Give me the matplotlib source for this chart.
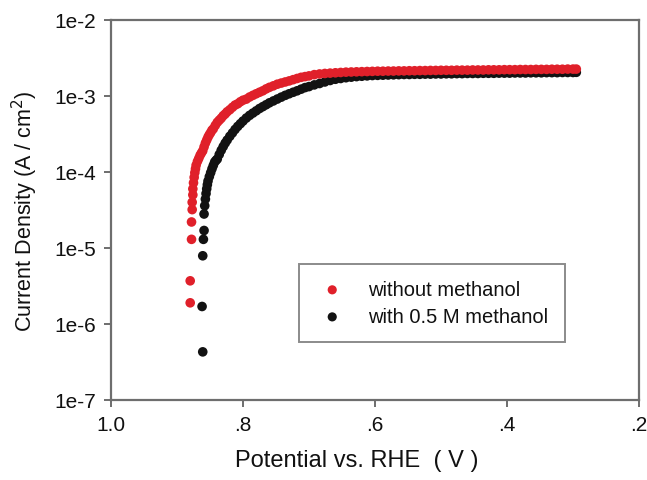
import matplotlib
matplotlib.use("Agg")
import matplotlib.pyplot as plt
from matplotlib.ticker import FixedLocator, NullLocator

plt.rcParams['font.family'] = ['Liberation Sans', 'DejaVu Sans']

# ---- data: without methanol (red) ----
v_red = [0.880, 0.880, 0.878, 0.878, 0.877, 0.877, 0.876, 0.876, 0.875, 0.874,
         0.873, 0.872, 0.871, 0.869, 0.867, 0.865, 0.863, 0.861, 0.859, 0.857,
         0.855, 0.853, 0.851, 0.849, 0.847, 0.845, 0.842, 0.839, 0.836, 0.833,
         0.830, 0.827, 0.824, 0.820, 0.816, 0.812, 0.808, 0.804, 0.800, 0.795,
         0.790, 0.785, 0.780, 0.775, 0.770, 0.765, 0.760, 0.754, 0.748, 0.742,
         0.736, 0.730, 0.724, 0.718, 0.712, 0.706, 0.700, 0.692, 0.684, 0.676,
         0.668, 0.660, 0.652, 0.644, 0.636, 0.628, 0.620, 0.612, 0.604, 0.596,
         0.588, 0.580, 0.572, 0.564, 0.556, 0.548, 0.540, 0.532, 0.524, 0.516,
         0.508, 0.500, 0.492, 0.484, 0.476, 0.468, 0.460, 0.452, 0.444, 0.436,
         0.428, 0.420, 0.412, 0.404, 0.396, 0.388, 0.380, 0.372, 0.364, 0.356,
         0.348, 0.340, 0.332, 0.324, 0.316, 0.308, 0.300, 0.295]
j_red = [1.9e-6, 3.7e-6, 1.3e-5, 2.2e-5, 3.2e-5, 4.0e-5, 5.0e-5, 6.0e-5, 7.2e-5, 8.5e-5,
         9.8e-5, 1.10e-4, 1.23e-4, 1.38e-4, 1.51e-4, 1.66e-4, 1.78e-4, 1.90e-4, 2.14e-4, 2.40e-4,
         2.63e-4, 2.88e-4, 3.10e-4, 3.30e-4, 3.55e-4, 3.70e-4, 4.10e-4, 4.50e-4, 4.80e-4, 5.10e-4,
         5.50e-4, 5.80e-4, 6.20e-4, 6.60e-4, 7.10e-4, 7.60e-4, 7.90e-4, 8.40e-4, 8.80e-4, 9.10e-4,
         9.70e-4, 1.02e-3, 1.07e-3, 1.12e-3, 1.17e-3, 1.24e-3, 1.30e-3, 1.36e-3, 1.43e-3, 1.48e-3,
         1.53e-3, 1.58e-3, 1.64e-3, 1.70e-3, 1.76e-3, 1.80e-3, 1.84e-3, 1.91e-3, 1.95e-3, 1.98e-3,
         2.00e-3, 2.02e-3, 2.04e-3, 2.06e-3, 2.07e-3, 2.08e-3, 2.09e-3, 2.10e-3, 2.11e-3, 2.12e-3,
         2.12e-3, 2.13e-3, 2.13e-3, 2.14e-3, 2.14e-3, 2.15e-3, 2.15e-3, 2.16e-3, 2.16e-3, 2.17e-3,
         2.17e-3, 2.18e-3, 2.18e-3, 2.18e-3, 2.19e-3, 2.19e-3, 2.19e-3, 2.20e-3, 2.20e-3, 2.20e-3,
         2.21e-3, 2.21e-3, 2.21e-3, 2.22e-3, 2.22e-3, 2.22e-3, 2.23e-3, 2.23e-3, 2.23e-3, 2.24e-3,
         2.24e-3, 2.24e-3, 2.25e-3, 2.25e-3, 2.25e-3, 2.26e-3, 2.26e-3, 2.26e-3]

# ---- data: with 0.5 M methanol (black) ----
v_blk = [0.861, 0.862, 0.861, 0.860, 0.859, 0.859, 0.858, 0.857, 0.856, 0.855,
         0.854, 0.853, 0.851, 0.849, 0.847, 0.845, 0.843, 0.841, 0.839, 0.836,
         0.833, 0.830, 0.827, 0.824, 0.820, 0.816, 0.812, 0.808, 0.804, 0.800,
         0.795, 0.790, 0.785, 0.780, 0.775, 0.770, 0.765, 0.760, 0.754, 0.748,
         0.742, 0.736, 0.730, 0.724, 0.718, 0.712, 0.706, 0.700, 0.692, 0.684,
         0.676, 0.668, 0.660, 0.652, 0.644, 0.636, 0.628, 0.620, 0.612, 0.604,
         0.596, 0.588, 0.580, 0.572, 0.564, 0.556, 0.548, 0.540, 0.532, 0.524,
         0.516, 0.508, 0.500, 0.492, 0.484, 0.476, 0.468, 0.460, 0.452, 0.444,
         0.436, 0.428, 0.420, 0.412, 0.404, 0.396, 0.388, 0.380, 0.372, 0.364,
         0.356, 0.348, 0.340, 0.332, 0.324, 0.316, 0.308, 0.300, 0.295]
j_blk = [4.3e-7, 1.7e-6, 7.9e-6, 1.3e-5, 1.7e-5, 2.8e-5, 3.6e-5, 4.4e-5, 5.2e-5, 6.0e-5,
         6.8e-5, 7.6e-5, 8.7e-5, 9.8e-5, 1.10e-4, 1.22e-4, 1.35e-4, 1.42e-4, 1.48e-4, 1.70e-4,
         1.93e-4, 2.16e-4, 2.40e-4, 2.63e-4, 2.95e-4, 3.27e-4, 3.63e-4, 3.98e-4, 4.32e-4, 4.68e-4,
         5.13e-4, 5.56e-4, 5.96e-4, 6.38e-4, 6.84e-4, 7.24e-4, 7.67e-4, 8.13e-4, 8.61e-4, 9.12e-4,
         9.66e-4, 1.02e-3, 1.07e-3, 1.12e-3, 1.17e-3, 1.23e-3, 1.29e-3, 1.33e-3, 1.40e-3, 1.46e-3,
         1.53e-3, 1.60e-3, 1.66e-3, 1.70e-3, 1.74e-3, 1.77e-3, 1.80e-3, 1.82e-3, 1.84e-3, 1.86e-3,
         1.87e-3, 1.88e-3, 1.89e-3, 1.90e-3, 1.91e-3, 1.92e-3, 1.92e-3, 1.93e-3, 1.93e-3, 1.94e-3,
         1.94e-3, 1.95e-3, 1.95e-3, 1.96e-3, 1.96e-3, 1.97e-3, 1.97e-3, 1.98e-3, 1.98e-3, 1.98e-3,
         1.99e-3, 1.99e-3, 1.99e-3, 2.00e-3, 2.00e-3, 2.00e-3, 2.01e-3, 2.01e-3, 2.01e-3, 2.02e-3,
         2.02e-3, 2.02e-3, 2.03e-3, 2.03e-3, 2.03e-3, 2.04e-3, 2.04e-3, 2.04e-3, 2.05e-3]

x_ticks = [1.0, 0.8, 0.6, 0.4, 0.2]
x_tick_labels = ['1.0', '.8', '.6', '.4', '.2']
y_ticks = [1e-7, 1e-6, 1e-5, 1e-4, 1e-3, 1e-2]
y_tick_labels = ['1e-7', '1e-6', '1e-5', '1e-4', '1e-3', '1e-2']

W, H = 647, 481
fig = plt.figure(figsize=(W / 100, H / 100), dpi=100)
L, R, T, B = 111, 639, 21, 401
ax = fig.add_axes([L / W, 1 - B / H, (R - L) / W, (B - T) / H])

red = '#e0202a'
blk = '#121212'
ax.scatter(v_red, j_red, s=48, color=red, edgecolors='none', label='without methanol', zorder=3)
ax.scatter(v_blk, j_blk, s=48, color=blk, edgecolors='none', label='with 0.5 M methanol', zorder=2)

ax.set_yscale('log')
ax.set_xlim(1.0, 0.2)
ax.set_ylim(1e-7, 1e-2)
ax.xaxis.set_major_locator(FixedLocator(x_ticks))
ax.set_xticklabels(x_tick_labels)
ax.yaxis.set_major_locator(FixedLocator(y_ticks))
ax.set_yticklabels(y_tick_labels)
ax.yaxis.set_minor_locator(NullLocator())
ax.xaxis.set_minor_locator(NullLocator())

spine_c = '#6e6e6e'
for s in ax.spines.values():
    s.set_color(spine_c)
    s.set_linewidth(1.6)
ax.tick_params(axis='both', which='major', direction='out', length=5, width=1.4,
               color=spine_c, labelsize=15, labelcolor='#111111', pad=6)

ax.set_xlabel('Potential vs. RHE  ( V )', fontsize=17, color='#111111')
ax.xaxis.set_label_coords((357 - L) / (R - L), -(450 - B) / (B - T), transform=ax.transAxes)
ax.set_ylabel('Current Density (A / cm$^2$)', fontsize=15.5, color='#111111')
ax.yaxis.set_label_coords(-(L - 40) / (R - L), 0.5)

leg = ax.legend(loc='upper left', bbox_to_anchor=((299 - L) / (R - L), (B - 265) / (B - T)),
                borderaxespad=0, fontsize=14.5, frameon=True, fancybox=False,
                borderpad=0.8, handlelength=1.7, handletextpad=0.95, labelspacing=0.4,
                scatterpoints=1, markerscale=0.95)
leg.get_frame().set_edgecolor(spine_c)
leg.get_frame().set_linewidth(1.4)
for t in leg.get_texts():
    t.set_color('#111111')

fig.savefig('out.png', dpi=100)
